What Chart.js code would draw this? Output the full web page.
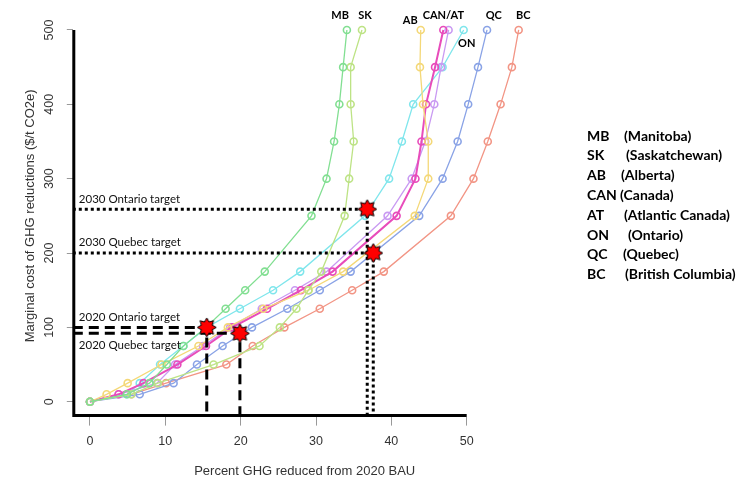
<!DOCTYPE html>
<html>
<head>
<meta charset="utf-8">
<script src="https://cdn.jsdelivr.net/npm/chart.js@4.4.0/dist/chart.umd.min.js"></script>
<style>
  html, body { margin: 0; padding: 0; background: #fff; }
  canvas { display: block; }
</style>
</head>
<body>
<canvas id="mac" width="748" height="482"></canvas>
<script>
// cost levels ($/t CO2e) shared by every province curve
const costLevels = [0, 10, 25, 50, 75, 100, 125, 150, 175, 250, 300, 350, 400, 450, 500];

// percent GHG reduced at each cost level
const mbValues  = [0, 4.9, 7.9, 10.2, 12.4, 15.4, 18.0, 20.6, 23.2, 29.4, 31.4, 32.4, 33.1, 33.6, 34.1];
const skValues  = [0, 5.5, 9.0, 16.4, 22.5, 25.2, 27.4, 29.0, 30.7, 33.8, 34.4, 35.0, 34.6, 34.6, 36.1];
const abValues  = [0, 2.2, 5.0, 9.5, 14.4, 18.3, 23.0, 29.0, 33.6, 43.1, 44.9, 44.9, 44.2, 43.8, 43.9];
const canValues = [0, 3.8, 7.1, 11.6, 15.4, 18.9, 23.5, 28.0, 32.2, 40.7, 43.2, 44.0, 44.6, 45.8, 46.9];
const atValues  = [0, 3.8, 8.9, 11.3, 15.0, 18.6, 22.8, 27.2, 31.4, 39.5, 42.7, 44.5, 45.7, 46.6, 47.6];
const onValues  = [0, 4.9, 6.6, 9.3, 12.4, 15.5, 19.9, 24.3, 27.9, 36.5, 39.7, 41.4, 42.9, 46.8, 49.6];
const qcValues  = [0, 6.6, 11.1, 14.2, 17.6, 21.5, 26.2, 30.5, 34.6, 43.7, 46.8, 48.8, 50.2, 51.5, 52.7];
const bcValues  = [0, 5.5, 10.1, 18.1, 21.6, 25.8, 30.5, 34.8, 39.0, 47.9, 50.9, 52.8, 54.5, 56.0, 56.9];

const provinceCodes = ['MB', 'SK', 'AB', 'CAN', 'AT', 'ON', 'QC', 'BC'];
const provinceNames = ['(Manitoba)', '(Saskatchewan)', '(Alberta)', '(Canada)', '(Atlantic Canada)', '(Ontario)', '(Quebec)', '(British Columbia)'];

// policy targets: percent reduced and carbon price
const targetNames = ['2020 Ontario target', '2020 Quebec target', '2030 Ontario target', '2030 Quebec target'];
const targetPct   = [15.5, 19.9, 36.8, 37.6];
const targetCost  = [100, 92, 259, 200];

const xTicks = [0, 10, 20, 30, 40, 50];
const yTicks = [0, 100, 200, 300, 400, 500];

const xMin = -2.28, xMax = 59.28, yMin = -20, yMax = 520;

const seriesValues = [mbValues, skValues, abValues, canValues, atValues, onValues, qcValues, bcValues];
const seriesColors = ['#82df92', '#bde385', '#f4d878', '#e84cbb', '#c99af2', '#80e6ec', '#8aa3e6', '#f29585'];

function makeStar(r) {
  const c = document.createElement('canvas');
  const s = Math.ceil(r * 2 + 4);
  c.width = s; c.height = s;
  const g = c.getContext('2d');
  g.translate(s / 2, s / 2);
  g.beginPath();
  for (let i = 0; i < 16; i++) {
    const rad = i % 2 === 0 ? r : r * 0.62;
    const a = -Math.PI / 2 + i * Math.PI / 8;
    g.lineTo(rad * Math.cos(a), rad * Math.sin(a));
  }
  g.closePath();
  g.fillStyle = '#ff0000';
  g.fill();
  g.lineWidth = 1;
  g.strokeStyle = '#000';
  g.stroke();
  return c;
}

const datasets = [];

seriesValues.forEach((vals, i) => {
  datasets.push({
    label: provinceCodes[i],
    data: vals.map((v, j) => ({ x: v, y: costLevels[j] })),
    showLine: true,
    borderColor: seriesColors[i],
    borderWidth: provinceCodes[i] === 'CAN' ? 2 : 1.3,
    pointBorderColor: seriesColors[i],
    pointBackgroundColor: 'rgba(255,255,255,0)',
    pointRadius: 3.5,
    pointBorderWidth: 1.6,
    order: 10 + i
  });
});

// target guide lines: from the y axis to the star, then down to the x axis
targetPct.forEach((p, i) => {
  const is2020 = targetNames[i].startsWith('2020');
  datasets.push({
    label: targetNames[i],
    data: [{ x: xMin, y: targetCost[i] }, { x: p, y: targetCost[i] }, { x: p, y: yMin }],
    showLine: true,
    borderColor: '#000',
    borderWidth: 3,
    borderDash: is2020 ? [10, 6] : [3, 3],
    pointRadius: 0,
    order: 2
  });
});

datasets.push({
  label: 'targets',
  data: targetPct.map((p, i) => ({ x: p, y: targetCost[i] })),
  showLine: false,
  pointStyle: makeStar(9.5),
  pointRadius: 10,
  order: 0
});

const annotations = {
  id: 'annotations',
  afterDraw(chart) {
    const { ctx, chartArea } = chart;
    const xs = chart.scales.x, ys = chart.scales.y;
    ctx.save();

    // thick L-shaped axes
    ctx.strokeStyle = '#000';
    ctx.lineWidth = 3;
    ctx.beginPath();
    ctx.moveTo(chartArea.left + 1, ys.getPixelForValue(yTicks[yTicks.length - 1]));
    ctx.lineTo(chartArea.left + 1, chartArea.bottom - 1);
    ctx.lineTo(xs.getPixelForValue(xTicks[xTicks.length - 1]), chartArea.bottom - 1);
    ctx.stroke();

    // rotated y tick labels
    ctx.fillStyle = '#333';
    ctx.font = '12.5px "Liberation Sans", Arial, sans-serif';
    ctx.textAlign = 'center';
    ctx.textBaseline = 'middle';
    yTicks.forEach(v => {
      ctx.save();
      ctx.translate(50, ys.getPixelForValue(v));
      ctx.rotate(-Math.PI / 2);
      ctx.fillText(String(v), 0, 0);
      ctx.restore();
    });

    // target labels
    ctx.fillStyle = '#111';
    ctx.font = '11.5px Lato, "Open Sans", sans-serif';
    ctx.textAlign = 'left';
    const labelShift = [-10, 12, -10, -11];
    targetNames.forEach((t, i) => {
      ctx.fillText(t, chartArea.left + 6, ys.getPixelForValue(targetCost[i]) + labelShift[i]);
    });

    // province tags near the top of the curves
    ctx.font = 'bold 11px Lato, "Open Sans", sans-serif';
    ctx.textAlign = 'center';
    ctx.fillStyle = '#000';
    const tags = [['MB', 33.2, 520], ['SK', 36.5, 520], ['AB', 42.5, 512.5], ['CAN/AT', 46.9, 520],
                  ['ON', 50.0, 482], ['QC', 53.6, 520], ['BC', 57.5, 520]];
    tags.forEach(([t, x, y]) => ctx.fillText(t, xs.getPixelForValue(x), ys.getPixelForValue(y)));

    // key on the right
    ctx.font = 'bold 14px Lato, "Open Sans", sans-serif';
    ctx.textAlign = 'left';
    const nameX = [624, 626, 621, 620, 624, 628, 623, 625];
    provinceCodes.forEach((c, i) => {
      const y = 136 + i * 19.8;
      ctx.fillText(c, 587, y);
      ctx.fillText(provinceNames[i], nameX[i], y);
    });

    ctx.restore();
  }
};

new Chart(document.getElementById('mac').getContext('2d'), {
  type: 'scatter',
  data: { datasets },
  options: {
    responsive: false,
    animation: false,
    events: [],
    layout: { padding: { left: 0, top: 15.1, right: 211.4, bottom: 0 } },
    plugins: { legend: { display: false }, tooltip: { enabled: false } },
    scales: {
      x: {
        type: 'linear',
        min: xMin,
        max: xMax,
        afterBuildTicks: s => { s.ticks = xTicks.map(v => ({ value: v })); },
        afterFit: s => { s.height = 65.4; },
        grid: { drawOnChartArea: false, drawTicks: true, tickLength: 9, color: '#999' },
        border: { display: false },
        ticks: { color: '#333', padding: 8, maxRotation: 0, font: { family: '"Liberation Sans", Arial, sans-serif', size: 12.5 } },
        title: {
          display: true,
          text: 'Percent GHG reduced from 2020 BAU',
          color: '#333',
          font: { family: '"Liberation Sans", Arial, sans-serif', size: 13 },
          padding: { top: 0, bottom: 3 }
        }
      },
      y: {
        type: 'linear',
        min: yMin,
        max: yMax,
        afterBuildTicks: s => { s.ticks = yTicks.map(v => ({ value: v })); },
        afterFit: s => { s.width = 72.8; },
        grid: { drawOnChartArea: false, drawTicks: true, tickLength: 6, color: '#999' },
        border: { display: false },
        ticks: { display: false },
        title: {
          display: true,
          text: 'Marginal cost of GHG reductions ($/t CO2e)',
          color: '#333',
          font: { family: '"Liberation Sans", Arial, sans-serif', size: 13 },
          padding: { top: 23, bottom: 0 }
        }
      }
    }
  },
  plugins: [annotations]
});
</script>
</body>
</html>
